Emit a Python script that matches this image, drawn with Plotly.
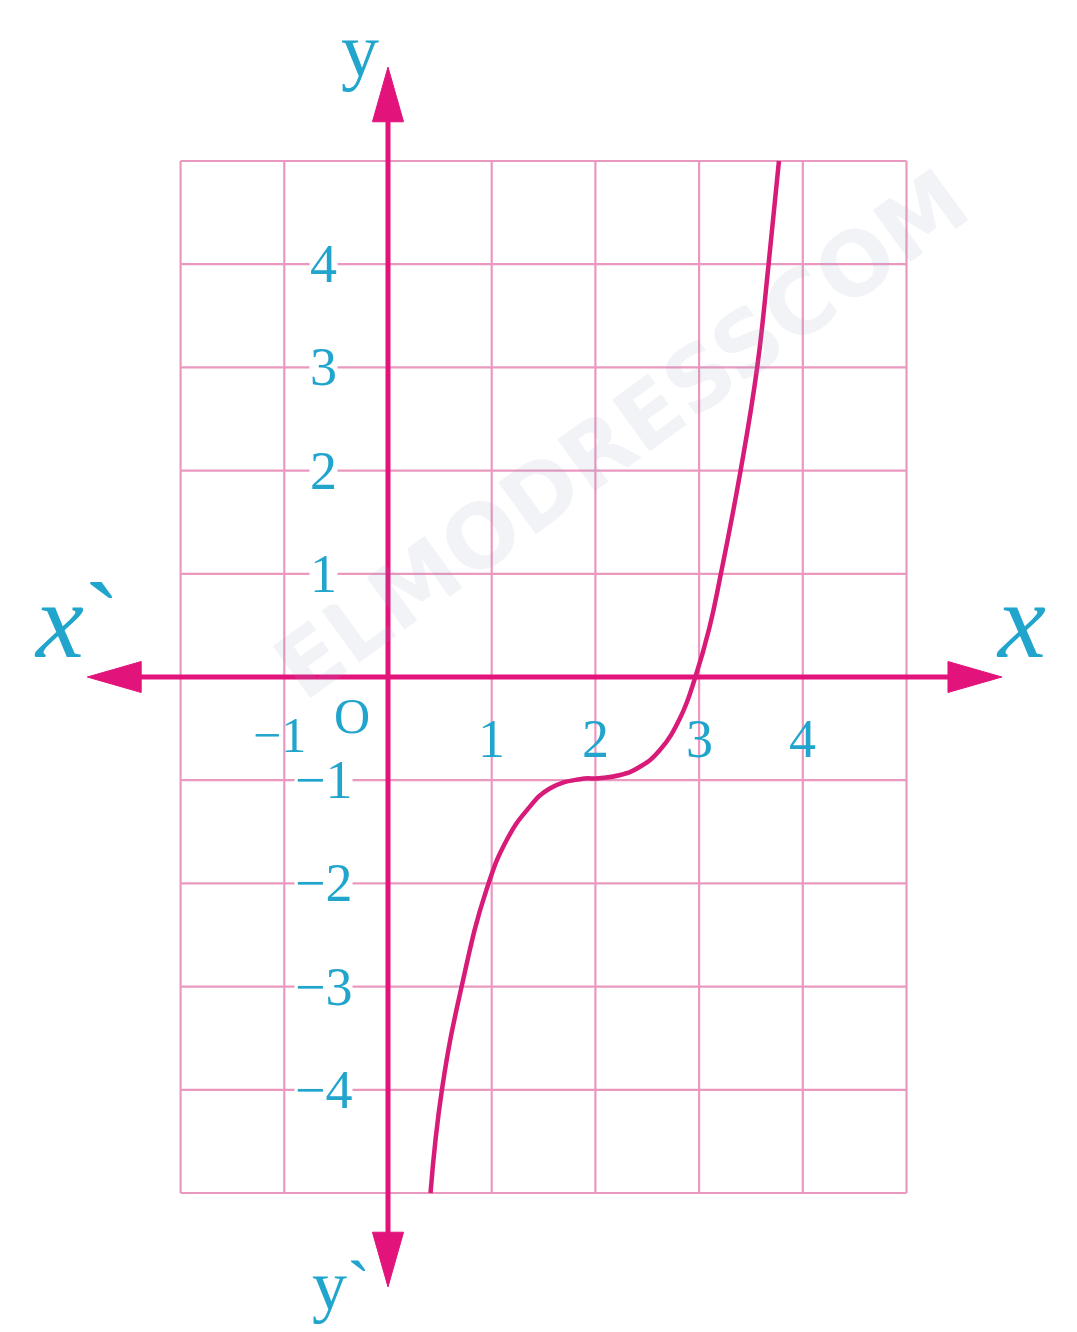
import plotly.graph_objects as go

# ---- data ----
curve_x = [0.41, 0.52, 0.71, 0.95, 1.145, 1.34, 1.56, 1.85, 2.03, 2.24, 2.43, 2.62, 2.82, 2.97, 3.10, 3.21, 3.40, 3.56, 3.67, 3.77]
curve_y = [-5.0, -4.0, -3.0, -2.06, -1.58, -1.29, -1.08, -0.99, -0.98, -0.95, -0.87, -0.71, -0.39, 0.02, 0.48, 1.0, 2.0, 3.0, 4.0, 5.0]

grid_x = [-2, -1, 0, 1, 2, 3, 4, 5]
grid_y = [-5, -4, -3, -2, -1, 0, 1, 2, 3, 4, 5]

x_tick_vals = [1, 2, 3, 4]
x_tick_text = ["1", "2", "3", "4"]
y_tick_vals = [4, 3, 2, 1, -1, -2, -3, -4]
y_tick_text = ["4", "3", "2", "1", "\u22121", "\u22122", "\u22123", "\u22124"]

# ---- styles ----
GRID = "#ea98bf"
AXIS = "#e3137c"
CURVE = "#d81b78"
LABEL = "#22a5cc"
SERIF = "Liberation Serif, Times New Roman, serif"

# figure is 1069x1324 (page adds an 8px body margin)
X_RANGE = [-3.6644, 6.6442]
Y_RANGE = [-6.3469, 6.4826]
AX_X_MIN, AX_X_MAX = -2.90, 5.92
AX_Y_MIN, AX_Y_MAX = -5.91, 5.91
HEAD_LX, HEAD_WY = 0.52, 0.15
HEAD_LY, HEAD_WX = 0.53, 0.15

fig = go.Figure()

shapes = []
for gx in grid_x:
    shapes.append(dict(type="line", xref="x", yref="y", x0=gx, x1=gx, y0=min(grid_y), y1=max(grid_y),
                       line=dict(color=GRID, width=2.2), layer="below"))
for gy in grid_y:
    shapes.append(dict(type="line", xref="x", yref="y", x0=min(grid_x), x1=max(grid_x), y0=gy, y1=gy,
                       line=dict(color=GRID, width=2.2), layer="below"))

shapes.append(dict(type="line", xref="x", yref="y", x0=AX_X_MIN + HEAD_LX * 0.8, x1=AX_X_MAX - HEAD_LX * 0.8,
                   y0=0, y1=0, line=dict(color=AXIS, width=5), layer="below"))
shapes.append(dict(type="line", xref="x", yref="y", x0=0, x1=0, y0=AX_Y_MIN + HEAD_LY * 0.8,
                   y1=AX_Y_MAX - HEAD_LY * 0.8, line=dict(color=AXIS, width=5), layer="below"))


def tri(p1, p2, p3):
    return "M {} {} L {} {} L {} {} Z".format(p1[0], p1[1], p2[0], p2[1], p3[0], p3[1])


heads = [
    tri((AX_X_MAX, 0), (AX_X_MAX - HEAD_LX, HEAD_WY), (AX_X_MAX - HEAD_LX, -HEAD_WY)),
    tri((AX_X_MIN, 0), (AX_X_MIN + HEAD_LX, HEAD_WY), (AX_X_MIN + HEAD_LX, -HEAD_WY)),
    tri((0, AX_Y_MAX), (HEAD_WX, AX_Y_MAX - HEAD_LY), (-HEAD_WX, AX_Y_MAX - HEAD_LY)),
    tri((0, AX_Y_MIN), (HEAD_WX, AX_Y_MIN + HEAD_LY), (-HEAD_WX, AX_Y_MIN + HEAD_LY)),
]
for h in heads:
    shapes.append(dict(type="path", xref="x", yref="y", path=h, fillcolor=AXIS,
                       line=dict(color=AXIS, width=1), layer="below"))

fig.add_trace(go.Scatter(
    x=curve_x, y=curve_y, mode="lines",
    line=dict(color=CURVE, width=4.5, shape="spline", smoothing=1.3),
    hoverinfo="skip", showlegend=False,
))

annotations = []
annotations.append(dict(x=2.25, y=2.35, xref="x", yref="y", text="<b>ELMODRESSCOM</b>", showarrow=False,
                        textangle=-36, font=dict(family="DejaVu Sans", size=88, color="rgba(150,165,190,0.13)"),
                        xanchor="center", yanchor="middle"))
for v, t in zip(x_tick_vals, x_tick_text):
    annotations.append(dict(x=v, y=-0.60, xref="x", yref="y", text=t, showarrow=False,
                            font=dict(family=SERIF, size=54, color=LABEL),
                            xanchor="center", yanchor="middle"))
for v, t in zip(y_tick_vals, y_tick_text):
    annotations.append(dict(x=-0.62, y=v, xref="x", yref="y", text=t, showarrow=False,
                            font=dict(family=SERIF, size=54, color=LABEL),
                            xanchor="center", yanchor="middle", bgcolor="white", borderpad=0))
annotations.append(dict(x=-1.05, y=-0.56, xref="x", yref="y", text="\u22121", showarrow=False,
                        font=dict(family=SERIF, size=50, color=LABEL), xanchor="center", yanchor="middle"))
annotations.append(dict(x=-0.35, y=-0.38, xref="x", yref="y", text="O", showarrow=False,
                        font=dict(family=SERIF, size=50, color=LABEL), xanchor="center", yanchor="middle"))
annotations.append(dict(x=6.1, y=0.55, xref="x", yref="y", text="<i>x</i>", showarrow=False,
                        font=dict(family=SERIF, size=108, color=LABEL), xanchor="center", yanchor="middle"))
annotations.append(dict(x=-3.0, y=0.55, xref="x", yref="y", text="<i>x</i>`", showarrow=False,
                        font=dict(family=SERIF, size=108, color=LABEL), xanchor="center", yanchor="middle"))
annotations.append(dict(x=-0.27, y=6.08, xref="x", yref="y", text="y", showarrow=False,
                        font=dict(family=SERIF, size=76, color=LABEL), xanchor="center", yanchor="middle"))
annotations.append(dict(x=-0.45, y=-5.9, xref="x", yref="y", text="y`", showarrow=False,
                        font=dict(family=SERIF, size=70, color=LABEL), xanchor="center", yanchor="middle"))

fig.update_layout(
    width=1069, height=1324,
    margin=dict(l=0, r=0, t=0, b=0),
    paper_bgcolor="white", plot_bgcolor="white",
    xaxis=dict(range=X_RANGE, visible=False, fixedrange=True),
    yaxis=dict(range=Y_RANGE, visible=False, fixedrange=True),
    shapes=shapes, annotations=annotations, showlegend=False,
)

fig.write_html("out.html")
